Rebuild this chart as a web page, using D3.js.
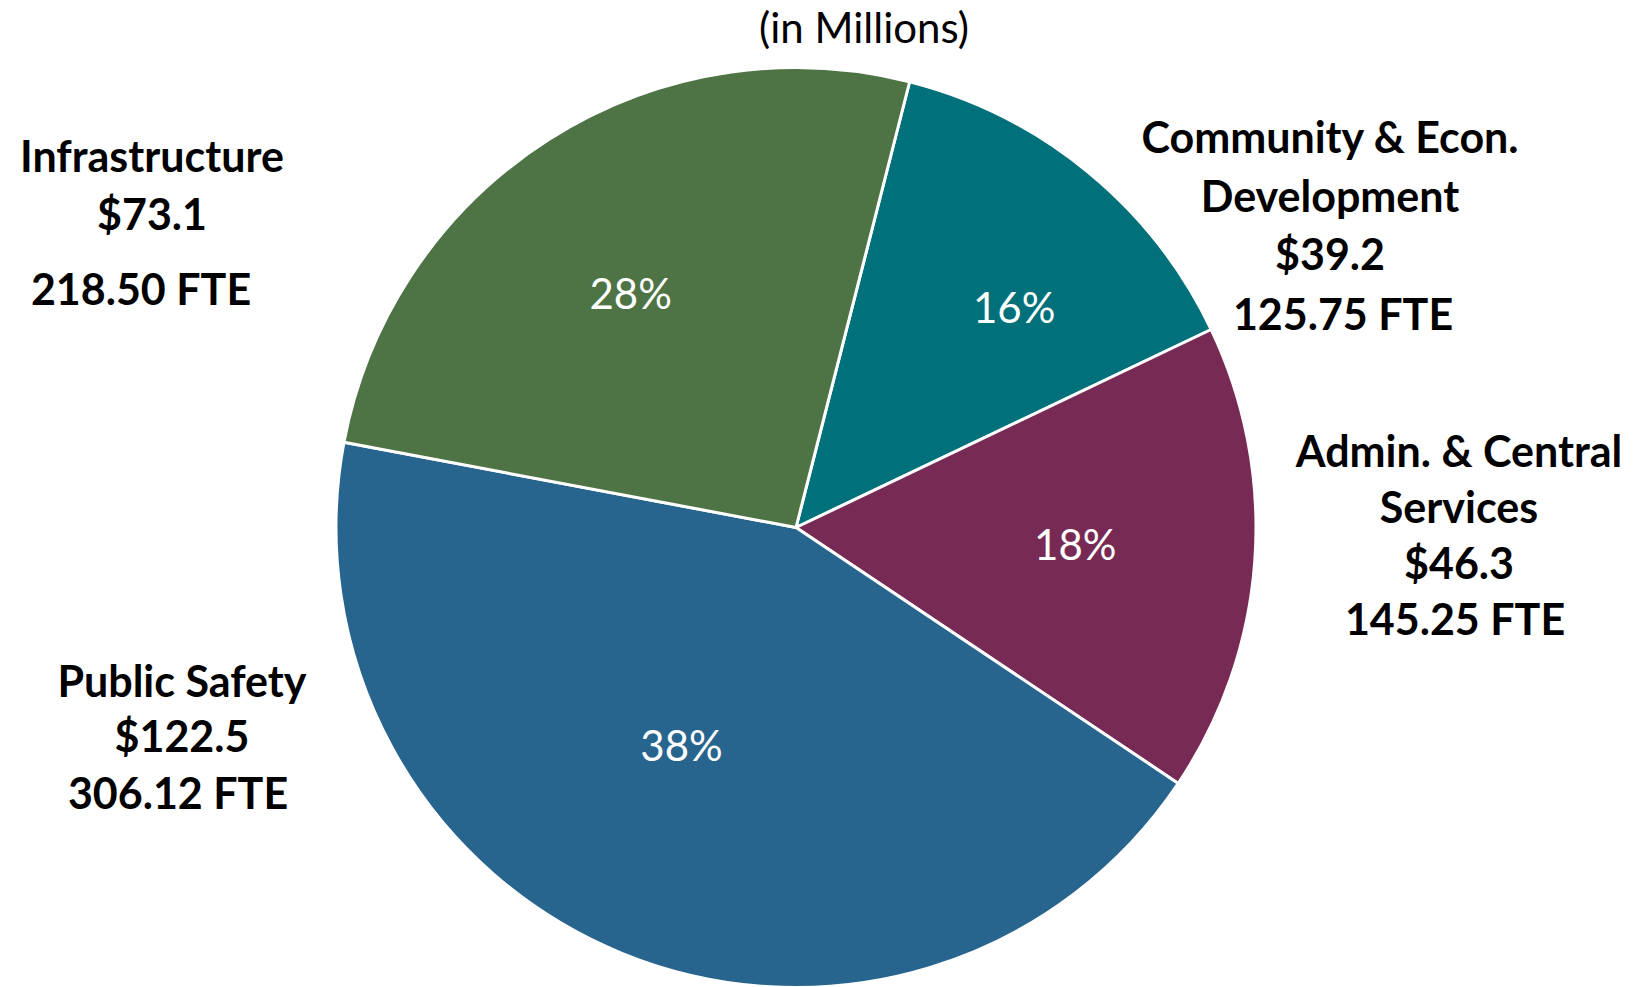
<!DOCTYPE html>
<html>
<head>
<meta charset="utf-8">
<script src="https://cdn.jsdelivr.net/npm/d3@7"></script>
<style>
    html, body { margin: 0; padding: 0; background: #fff; }
    svg { display: block; font-family: Lato, "Open Sans", sans-serif; }
</style>
</head>
<body>
<div id="chart"></div>
<script>
// slices go clockwise from the top line
const categories = ['Community & Econ. Development', 'Admin. & Central Services', 'Public Safety', 'Infrastructure'];
const budget = [39.2, 46.3, 122.5, 73.1];          // $ millions, drives slice size
const fte = ['125.75', '145.25', '306.12', '218.50'];
const pctLabels = ['16%', '18%', '38%', '28%'];
const nameLines = [
    ['Community & Econ.', 'Development'],
    ['Admin. & Central', 'Services'],
    ['Public Safety'],
    ['Infrastructure'],
];
const colors = ['#00707a', '#772a53', '#27648e', '#4e7345'];

const width = 1636, height = 987;
const cx = 796, cy = 527.5, radius = 460;

// where the outside labels sit (x centre, first baseline, line gap, FTE line)
const labelLayout = [
    {x: 1330, y: 153, gap: 58.5, fteX: 1343, fteY: 330},
    {x: 1459, y: 467, gap: 56, fteX: 1455, fteY: 635},
    {x: 182, y: 697, gap: 55, fteX: 178, fteY: 809},
    {x: 152, y: 172, gap: 58, fteX: 141, fteY: 305},
];
// nudges for the percentage labels off the centroid
const pctNudge = [[43, -6], [4, -2], [-10, -37], [-17, 0]];

const svg = d3.select('#chart')
    .append('svg')
    .attr('width', width)
    .attr('height', height);

svg.append('text')
    .attr('x', 864)
    .attr('y', 43)
    .attr('text-anchor', 'middle')
    .attr('font-size', 42)
    .attr('fill', '#000')
    .text('(in Millions)');

const pie = d3.pie()
    .sort(null)
    .startAngle(14.3 * Math.PI / 180)
    .endAngle(14.3 * Math.PI / 180 + 2 * Math.PI);

const arcs = pie(budget);

const arc = d3.arc().innerRadius(0).outerRadius(radius);
const labelArc = d3.arc().innerRadius(radius * 0.6).outerRadius(radius * 0.6);

const g = svg.append('g').attr('transform', `translate(${cx},${cy})`);

g.selectAll('path.slice')
    .data(arcs)
    .enter()
    .append('path')
    .attr('class', 'slice')
    .attr('d', arc)
    .attr('fill', (d, i) => colors[i])
    .attr('stroke', '#fff')
    .attr('stroke-width', 3)
    .attr('stroke-linejoin', 'round');

g.selectAll('text.pct')
    .data(arcs)
    .enter()
    .append('text')
    .attr('class', 'pct')
    .attr('x', (d, i) => labelArc.centroid(d)[0] + pctNudge[i][0])
    .attr('y', (d, i) => labelArc.centroid(d)[1] + pctNudge[i][1])
    .attr('dy', '0.35em')
    .attr('text-anchor', 'middle')
    .attr('font-size', 42)
    .attr('fill', '#fff')
    .text((d, i) => pctLabels[i]);

// outside labels: name lines, dollar amount, FTE
categories.forEach((c, i) => {
    const L = labelLayout[i];
    const t = svg.append('text')
        .attr('text-anchor', 'middle')
        .attr('font-size', 43)
        .attr('font-weight', 'bold')
        .attr('fill', '#000');
    const lines = nameLines[i].concat(['$' + budget[i].toFixed(1)]);
    lines.forEach((s, k) => {
        t.append('tspan')
            .attr('x', L.x)
            .attr('y', L.y + k * L.gap)
            .text(s);
    });
    svg.append('text')
        .attr('x', L.fteX)
        .attr('y', L.fteY)
        .attr('text-anchor', 'middle')
        .attr('font-size', 43)
        .attr('font-weight', 'bold')
        .attr('fill', '#000')
        .text(fte[i] + ' FTE');
});
</script>
</body>
</html>
